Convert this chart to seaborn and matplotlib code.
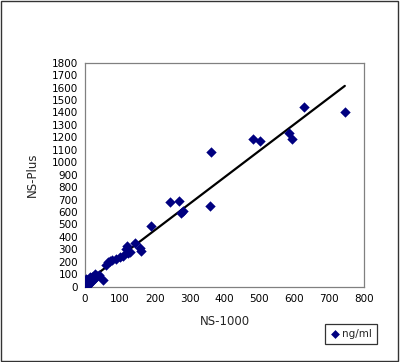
import numpy as np
import pandas as pd
import matplotlib
matplotlib.use("Agg")
import matplotlib.pyplot as plt
import seaborn as sns

# values (ng/ml)
ns1000 = [1, 2, 4, 5, 6, 8, 9, 10, 12, 14, 15, 18, 20, 22, 25, 28, 30, 35, 40,
          3, 53, 60, 65, 72, 78, 90, 100, 110, 117, 119, 122, 130, 143, 158,
          162, 190, 243, 270, 275, 280, 360, 358, 482, 502, 585, 594, 628, 745]
nsplus = [2, 5, 15, 30, 50, 10, 25, 40, 20, 75, 60, 35, 80, 50, 90, 70, 100, 85, 95,
          60, 55, 175, 200, 205, 215, 225, 235, 250, 300, 330, 270, 280, 350, 310,
          290, 488, 678, 690, 590, 610, 1085, 650, 1190, 1170, 1235, 1190, 1440, 1400]

df = pd.DataFrame({"NS-1000": ns1000, "NS-Plus": nsplus})

sns.set_style("white")
plt.rcParams["font.family"] = ["DejaVu Sans"]

fig = plt.figure(figsize=(4.0, 3.62), dpi=100)
ax = fig.add_axes([0.2125, 0.208, 0.6975, 0.619])

sns.regplot(data=df, x="NS-1000", y="NS-Plus", ax=ax, ci=None,
            marker="D", color="#000080",
            scatter_kws={"s": 28, "linewidths": 0, "alpha": 1, "zorder": 3},
            line_kws={"color": "black", "lw": 1.6, "zorder": 2})

ax.set_xlim(0, 800)
ax.set_ylim(0, 1800)
ax.set_xticks(range(0, 801, 100))
ax.set_yticks(range(0, 1801, 100))
ax.tick_params(direction="in", length=3, width=0.8, labelsize=7.5, pad=5, colors="black")
for s in ax.spines.values():
    s.set_color("#808080")
    s.set_linewidth(0.9)
ax.set_xlabel("NS-1000", fontsize=8.5, labelpad=8)
ax.set_ylabel("NS-Plus", fontsize=8.5, labelpad=9)

leg = fig.legend(handles=[ax.collections[0]], labels=["ng/ml"],
                 loc="lower right", bbox_to_anchor=(0.955, 0.035),
                 fontsize=7.5, frameon=True, fancybox=False, handletextpad=0.15,
                 handlelength=1.0, borderpad=0.5, markerscale=0.85)
leg.get_frame().set_edgecolor("black")
leg.get_frame().set_linewidth(0.9)

# outer frame of the picture
fig.patches.append(plt.Rectangle((0.002, 0.003), 0.994, 0.993, transform=fig.transFigure,
                                 fill=False, edgecolor="#333333", lw=1.0))

fig.savefig("out.png", dpi=100)
